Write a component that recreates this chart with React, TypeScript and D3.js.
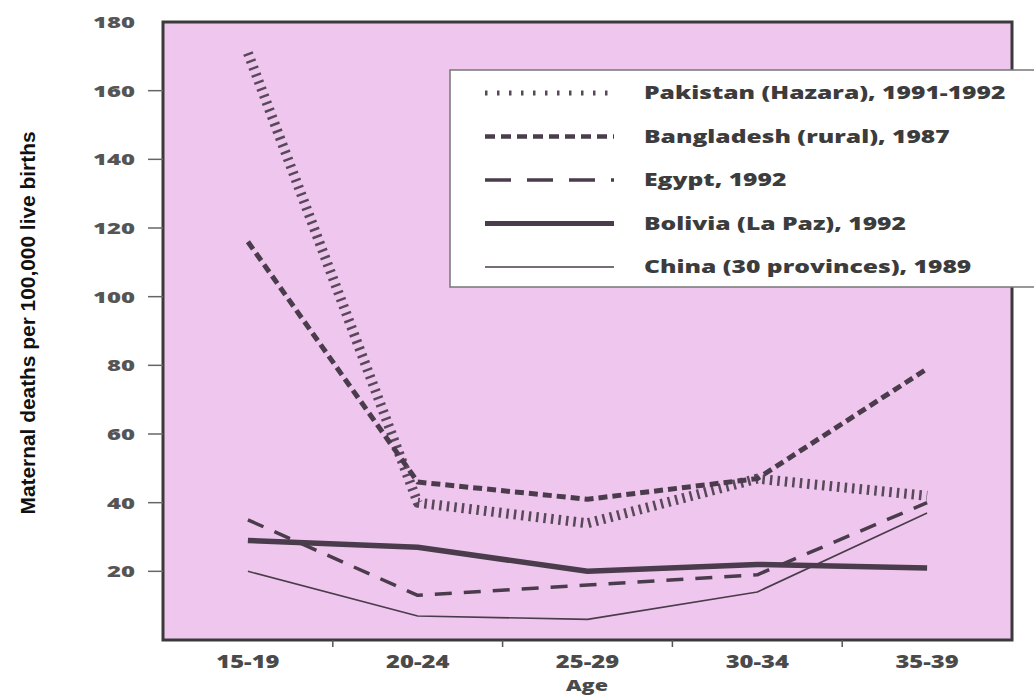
import * as d3 from "d3";

// age groups on the x axis
const ages = ["15-19", "20-24", "25-29", "30-34", "35-39"];

// maternal deaths per 100,000 live births
const pakistan = [171, 40, 34, 47, 42];
const bangladesh = [116, 46, 41, 47, 79];
const egypt = [35, 13, 16, 19, 40];
const bolivia = [29, 27, 20, 22, 21];
const china = [20, 7, 6, 14, 37];

const seriesNames = [
  "Pakistan (Hazara), 1991-1992",
  "Bangladesh (rural), 1987",
  "Egypt, 1992",
  "Bolivia (La Paz), 1992",
  "China (30 provinces), 1989",
];

const yTicks = [20, 40, 60, 80, 100, 120, 140, 160, 180];

const W = 1034;
const H = 695;
const plot = { left: 163, right: 1012, top: 22, bottom: 640 };

const lineColor = "#4a3c4c";
const font = "'Open Sans', 'DejaVu Sans', sans-serif";

// stroke styles: plot line and legend sample
const styles = [
  { width: 10, dash: "2.5 5", legendWidth: 5, legendDash: "2.5 9.5", color: "#574959" },
  { width: 5, dash: "9 5", legendWidth: 4.5, legendDash: "10 6", color: lineColor },
  { width: 3.5, dash: "17 12", legendWidth: 3.5, legendDash: "26 16", color: lineColor },
  { width: 5.5, dash: "", legendWidth: 5, legendDash: "", color: lineColor },
  { width: 1.6, dash: "", legendWidth: 1.6, legendDash: "", color: lineColor },
];

// stretched text, the scan is wider than it is tall
const T = ({ x, y, sx = 1.4, size = 16, anchor = "start", fill = "#555", weight = 800, children }: any) => (
  <text
    transform={`translate(${x},${y}) scale(${sx},1)`}
    textAnchor={anchor}
    fontFamily={font}
    fontWeight={weight}
    fontSize={size}
    fill={fill}
  >
    {children}
  </text>
);

export default function App() {
  const series = [pakistan, bangladesh, egypt, bolivia, china];

  const x = d3.scaleBand<string>().domain(ages).range([plot.left, plot.right]);
  const y = d3.scaleLinear().domain([0, 180]).range([plot.bottom, plot.top]);

  const line = d3
    .line<number>()
    .x((_, i) => (x(ages[i]) as number) + x.bandwidth() / 2)
    .y((d) => y(d));

  // band boundaries used as x tick marks
  const xTickPos = ages.slice(1).map((a) => x(a) as number);

  const legend = { x: 450, y: 70, w: 600, h: 217, sampleX0: 485, sampleX1: 614, textX: 644, row0: 93, rowGap: 43.5 };

  return (
    <svg width={W} height={H} style={{ position: "absolute", left: 0, top: 0, background: "#fff" }}>
      {/* plot background */}
      <rect
        x={plot.left}
        y={plot.top}
        width={plot.right - plot.left}
        height={plot.bottom - plot.top}
        fill="#efc7ee"
        stroke="#3a3a3a"
        strokeWidth={3}
      />

      {/* y axis ticks and labels */}
      {yTicks.map((t) => (
        <g key={t}>
          {t < 180 && (
            <line x1={plot.left - 15} x2={plot.left} y1={y(t)} y2={y(t)} stroke="#666" strokeWidth={1.5} />
          )}
          <T x={135} y={y(t) + 6} anchor="end" size={16.5} sx={1.45} fill="#555">
            {t}
          </T>
        </g>
      ))}

      {/* x axis ticks and labels */}
      {xTickPos.map((p) => (
        <line key={p} x1={p} x2={p} y1={plot.bottom} y2={plot.bottom + 7} stroke="#555" strokeWidth={1.5} />
      ))}
      {ages.map((a) => (
        <T key={a} x={(x(a) as number) + x.bandwidth() / 2} y={668} anchor="middle" size={17} sx={1.4} fill="#4a4a4a">
          {a}
        </T>
      ))}
      <T x={587} y={691} anchor="middle" size={16} sx={1.35} fill="#4a4a4a">
        Age
      </T>

      {/* y axis title */}
      <text
        transform={`translate(35,323) rotate(-90)`}
        textAnchor="middle"
        fontFamily="'Liberation Sans Narrow', 'Liberation Sans', Arial, sans-serif"
        fontWeight={700}
        fontSize={21}
        textLength={383}
        lengthAdjust="spacingAndGlyphs"
        fill="#111"
      >
        Maternal deaths per 100,000 live births
      </text>

      {/* series lines */}
      {series.map((s, i) => (
        <path
          key={seriesNames[i]}
          d={line(s) as string}
          fill="none"
          stroke={styles[i].color}
          strokeWidth={styles[i].width}
          strokeDasharray={styles[i].dash || undefined}
          strokeLinejoin="round"
        />
      ))}

      {/* legend */}
      <rect x={legend.x} y={legend.y} width={legend.w} height={legend.h} fill="#fff" stroke="#777" strokeWidth={1.5} />
      {seriesNames.map((n, i) => {
        const ry = legend.row0 + i * legend.rowGap;
        return (
          <g key={n}>
            <line
              x1={legend.sampleX0}
              x2={legend.sampleX1}
              y1={ry}
              y2={ry}
              stroke={styles[i].color}
              strokeWidth={styles[i].legendWidth}
              strokeDasharray={styles[i].legendDash || undefined}
            />
            <T x={legend.textX} y={ry + 6} size={17} sx={1.45} fill="#3c3c3c">
              {n}
            </T>
          </g>
        );
      })}
    </svg>
  );
}
